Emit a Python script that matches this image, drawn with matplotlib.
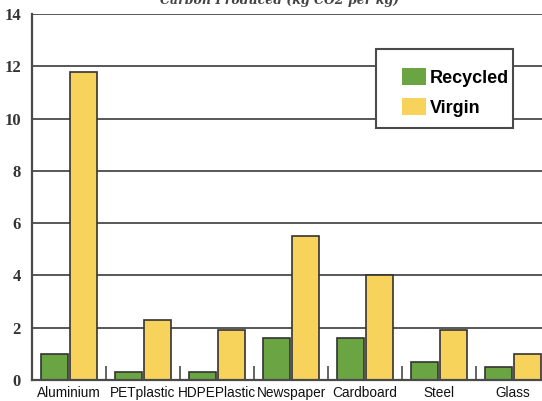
import matplotlib

matplotlib.use("Agg")
import matplotlib.pyplot as plt  # noqa: E402
import numpy as np  # noqa: E402
from matplotlib.patches import Patch, Rectangle  # noqa: E402

# ---------------- data ----------------
materials = ["Aluminium", "PETplastic", "HDPEPlastic", "Newspaper", "Cardboard", "Steel", "Glass"]
recycled = [1.0, 0.3, 0.3, 1.6, 1.6, 0.7, 0.5]
virgin = [11.8, 2.3, 1.9, 5.5, 4.0, 1.9, 1.0]
y_ticks = [0, 2, 4, 6, 8, 10, 12, 14]

GREEN = "#6ba543"
YELLOW = "#f8d35b"
EDGE = "#333333"
LINE = "#4a4a4a"

W, H = 542, 401
fig = plt.figure(figsize=(W / 100, H / 100), dpi=100)
# plot area runs past the right edge of the canvas
ax = fig.add_axes([32 / W, 1 - 380 / H, (550 - 32) / W, (380 - 14) / H])

x = np.arange(len(materials))
bw = 0.365
ax.bar(x - 0.2, recycled, bw, color=GREEN, edgecolor=EDGE, linewidth=1.2, zorder=3)
ax.bar(x + 0.2, virgin, bw, color=YELLOW, edgecolor=EDGE, linewidth=1.2, zorder=3)

ax.set_xlim(-0.5, len(materials) - 0.5)
ax.set_ylim(0, 14)

# y axis: bold serif numbers, gridlines instead of ticks
ax.set_yticks(y_ticks)
ax.set_yticklabels([str(v) for v in y_ticks], family="Liberation Serif",
                   fontweight="bold", fontsize=12, color="#333333")
ax.tick_params(axis="y", length=0, pad=8)
for v in y_ticks[1:]:
    ax.axhline(v, color=LINE, linewidth=1.3, zorder=1)

# x axis: labels at group centres, short inward ticks between groups
ax.set_xticks(x)
ax.set_xticklabels(materials, family="Liberation Sans", fontsize=9.8, color="#111111")
ax.tick_params(axis="x", which="major", length=0, pad=4)
ax.set_xticks(x[:-1] + 0.5, minor=True)
ax.tick_params(axis="x", which="minor", direction="in", length=10, width=1.2, color=LINE)

for side in ("top", "right"):
    ax.spines[side].set_visible(False)
for side in ("left", "bottom"):
    ax.spines[side].set_color(LINE)
    ax.spines[side].set_linewidth(1.6)
    ax.spines[side].set_zorder(4)

# legend box drawn over the gridlines
box = Rectangle((376 / W, 1 - 128 / H), (513 - 376) / W, (128 - 49) / H,
                transform=fig.transFigure, facecolor="white", edgecolor=LINE,
                linewidth=1.5, zorder=5, clip_on=False)
ax.add_patch(box)
handles = [Patch(facecolor=GREEN, edgecolor="none"), Patch(facecolor=YELLOW, edgecolor="none")]
leg = ax.legend(handles, ["Recycled", "Virgin"], loc="upper left",
                bbox_to_anchor=(388 / W, 1 - 54 / H), bbox_transform=fig.transFigure,
                frameon=False, handlelength=1.28, handleheight=1.0, handletextpad=0.22,
                labelspacing=0.65, borderpad=0.3,
                prop={"family": "Liberation Sans", "weight": "bold", "size": 13})
leg.set_zorder(6)

# heading sits mostly above the canvas
fig.text(280 / W, 1 - 4 / H, "Carbon Produced (kg CO2 per kg)", ha="center", va="baseline",
         family="DejaVu Serif", style="italic", fontweight="bold", fontsize=9, color="#444444")

fig.savefig("out.png", dpi=100)
